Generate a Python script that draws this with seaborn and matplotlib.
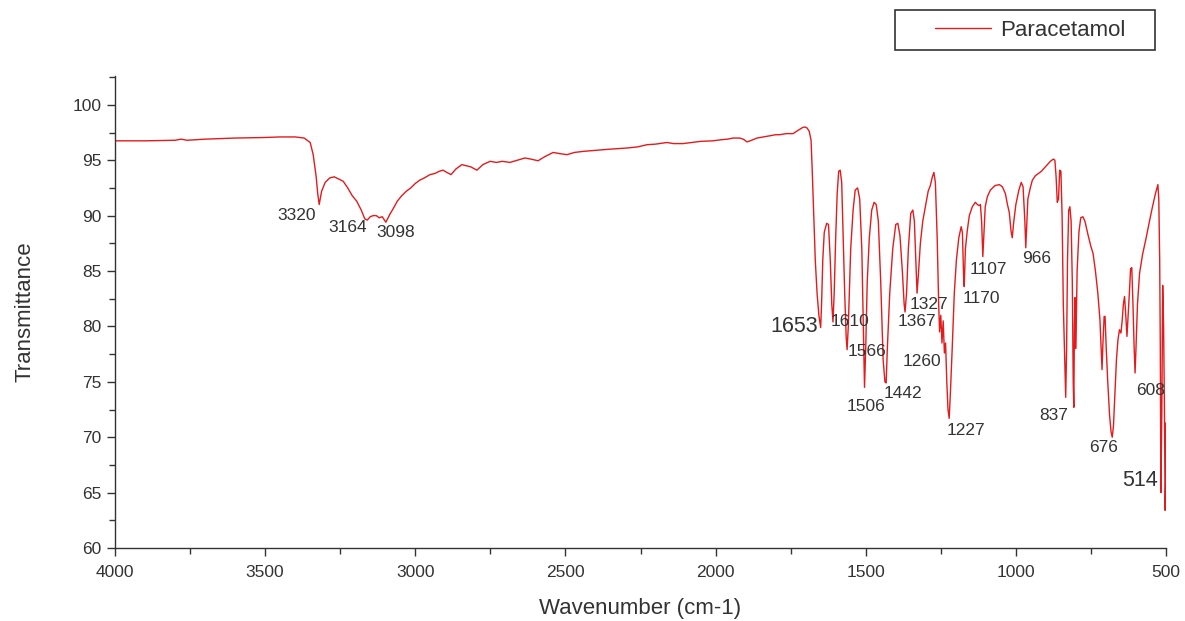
import numpy as np
import pandas as pd
import matplotlib
matplotlib.use("Agg")
import matplotlib.pyplot as plt
import seaborn as sns
from matplotlib.lines import Line2D
from matplotlib.patches import Rectangle
from matplotlib.ticker import MultipleLocator

# ---- data ----
# O-H / N-H region (4000-3000)
wn_high = [4000, 3900, 3800, 3780, 3760, 3700, 3600, 3500, 3450, 3400, 3370, 3350, 3340, 3330,
           3325, 3320, 3312, 3300, 3285, 3270, 3255, 3240, 3225, 3210, 3195, 3180, 3168, 3160,
           3150, 3140, 3130, 3120, 3110, 3098, 3085, 3070, 3060, 3045, 3030, 3015]
t_high = [96.75, 96.75, 96.8, 96.9, 96.8, 96.9, 97.0, 97.05, 97.1, 97.1, 97.0, 96.6, 95.5, 93.5,
          92.0, 91.0, 92.2, 93.0, 93.4, 93.5, 93.3, 93.1, 92.5, 91.8, 91.3, 90.5, 89.7, 89.6,
          89.9, 90.0, 90.0, 89.8, 89.9, 89.4, 90.1, 90.8, 91.3, 91.8, 92.2, 92.5]
# plateau (3000-1690)
wn_mid = [3000, 2985, 2970, 2951, 2935, 2920, 2908, 2895, 2881, 2865, 2845, 2830, 2815, 2795,
          2775, 2751, 2730, 2710, 2685, 2660, 2635, 2615, 2591, 2570, 2541, 2520, 2495, 2470,
          2440, 2395, 2350, 2295, 2260, 2228, 2200, 2162, 2140, 2108, 2080, 2050, 2009, 1980,
          1960, 1942, 1920, 1908, 1895, 1880, 1862, 1840, 1820, 1800, 1786, 1765, 1742, 1725,
          1710, 1702, 1695, 1688]
t_mid = [92.9, 93.2, 93.4, 93.7, 93.8, 94.0, 94.1, 93.9, 93.7, 94.2, 94.6, 94.5, 94.4, 94.1,
         94.6, 94.9, 94.8, 94.9, 94.8, 95.0, 95.2, 95.1, 94.95, 95.3, 95.7, 95.6, 95.5, 95.7,
         95.8, 95.9, 96.0, 96.1, 96.2, 96.4, 96.45, 96.6, 96.5, 96.5, 96.6, 96.7, 96.75, 96.85,
         96.9, 97.0, 97.0, 96.9, 96.65, 96.8, 97.0, 97.1, 97.2, 97.3, 97.3, 97.4, 97.4, 97.7,
         97.95, 98.0, 97.9, 97.6]
# fingerprint region (1690-500)
wn_low = [
    1682, 1678, 1673, 1668, 1662, 1656, 1650, 1647, 1643, 1638, 1630,
    1624, 1618, 1613, 1609, 1605, 1600, 1595, 1590, 1585, 1580, 1575, 1570, 1565, 1562, 1558, 1550,
    1542, 1535, 1527, 1520, 1513, 1508, 1504, 1500, 1495, 1488, 1480, 1472, 1465, 1458, 1450, 1442,
    1436, 1432, 1428, 1420, 1410, 1400, 1393, 1386, 1378, 1372, 1369, 1364, 1358, 1350, 1343, 1338,
    1333, 1329, 1325, 1318, 1310, 1300, 1292, 1285, 1278, 1273, 1268, 1262, 1257, 1254, 1250, 1246,
    1242, 1238, 1234, 1230, 1226, 1222, 1218, 1212, 1205, 1198, 1190, 1182, 1178, 1174, 1172, 1168,
    1162, 1155, 1145, 1135, 1128, 1122, 1118, 1114, 1110, 1106, 1102, 1095, 1085, 1070, 1055, 1045,
    1035, 1028, 1022, 1016, 1012, 1008, 1000, 990, 982, 976, 970, 967, 964, 960, 952, 945,
    935, 925, 915, 905, 895, 885, 875, 870, 866, 862, 858, 854, 850, 846, 842, 838,
    834, 831, 828, 824, 820, 816, 812, 809, 807, 805, 803, 801, 799, 796, 790, 784,
    777, 770, 760, 750, 743, 735, 727, 720, 716, 713, 710, 706, 703, 699, 694, 688,
    683, 679, 675, 670, 665, 660, 655, 650, 646, 642, 638, 634, 630, 626, 622, 618,
    614, 610, 606, 603, 600, 595, 588, 578, 566, 555, 545, 535, 527, 524, 521, 519,
    517, 514, 511, 508, 505, 503, 501, 500,
]
t_low = [
    96.8, 94.0, 90.0, 86.0, 83.0, 81.0, 79.9, 82.0, 86.0, 88.5, 89.3,
    89.2, 86.0, 82.0, 80.4, 83.0, 88.0, 92.0, 94.0, 94.1, 93.0, 88.0, 83.0, 79.0, 77.9, 80.0, 87.0,
    90.5, 92.3, 92.5, 91.5, 87.0, 80.0, 74.5, 78.0, 84.0, 88.0, 90.5, 91.2, 91.0, 89.5, 84.0, 77.0,
    75.0, 74.9, 78.0, 83.0, 87.0, 89.2, 89.3, 88.2, 85.0, 82.0, 81.3, 83.0, 87.0, 90.2, 90.5, 89.5,
    86.0, 83.0, 84.5, 87.5, 89.5, 91.0, 92.2, 92.7, 93.5, 93.9, 93.0, 88.0, 82.0, 79.5, 81.0, 78.5,
    80.5, 77.6, 78.5, 75.0, 72.5, 71.7, 74.0, 78.0, 83.0, 86.0, 88.0, 89.0, 88.5, 84.5, 83.6, 87.0,
    88.6, 90.0, 90.8, 91.2, 91.0, 90.9, 91.0, 89.5, 86.3, 88.5, 90.8, 91.7, 92.3, 92.7, 92.8, 92.6,
    92.0, 91.0, 90.3, 88.6, 88.0, 89.2, 91.0, 92.3, 93.0, 92.6, 89.5, 87.1, 89.0, 91.5, 92.5, 93.2,
    93.6, 93.8, 94.0, 94.3, 94.6, 94.9, 95.1, 95.0, 93.5, 91.2, 91.5, 94.1, 94.0, 90.0, 82.0, 77.9,
    73.6, 78.0, 86.0, 90.5, 90.8, 89.5, 84.0, 75.0, 72.7, 80.0, 82.6, 78.0, 80.0, 85.0, 88.5, 89.8,
    89.9, 89.5, 88.3, 87.2, 86.6, 85.0, 83.0, 80.6, 78.0, 76.1, 78.5, 80.9, 80.9, 78.0, 75.0, 72.0,
    70.5, 70.0, 71.0, 74.0, 77.0, 78.8, 79.7, 79.4, 80.5, 82.0, 82.7, 81.0, 79.1, 81.0, 83.0, 85.2,
    85.3, 82.0, 78.0, 75.8, 78.0, 82.0, 84.8, 86.5, 88.0, 89.5, 90.8, 92.0, 92.8, 91.5, 86.0, 78.2,
    65.0, 72.0, 83.7, 80.0, 72.0, 63.4, 66.0, 71.3,
]
wavenumber = wn_high + wn_mid + wn_low
transmittance = t_high + t_mid + t_low

peak_labels = ["3320", "3164", "3098", "1653", "1610", "1566", "1506", "1442", "1367", "1327",
               "1260", "1227", "1170", "1107", "966", "837", "676", "608", "514"]
label_x = [3394, 3224, 3064, 1739, 1552, 1496, 1499, 1376, 1329, 1289,
           1313, 1166, 1116, 1090, 930, 873, 707, 553, 587]
label_y = [89.98, 88.9, 88.5, 79.95, 80.4, 77.7, 72.8, 73.9, 80.4, 82.0,
           76.8, 70.6, 82.5, 85.1, 86.1, 72.0, 69.1, 74.2, 66.1]
big_labels = ["1653", "514"]

series_name = "Paracetamol"
x_ticks = [4000, 3500, 3000, 2500, 2000, 1500, 1000, 500]
y_ticks = [60, 65, 70, 75, 80, 85, 90, 95, 100]

df = pd.DataFrame({"Wavenumber": wavenumber, "Transmittance": transmittance})

# ---- styling ----
sns.set_style("ticks")
plt.rcParams["font.family"] = ["Liberation Sans", "DejaVu Sans"]
TXT = "#333333"
RED = "#e41a1c"

fig = plt.figure(figsize=(11.85, 6.21), dpi=100)
ax = fig.add_axes([115 / 1185, 1 - 548 / 621, (1166 - 115) / 1185, (548 - 76) / 621])

sns.lineplot(data=df, x="Wavenumber", y="Transmittance", ax=ax, color=RED,
             linewidth=1.0, sort=False, estimator=None)

ax.set_xlim(4000, 500)
ax.set_ylim(60, 102.6)
ax.set_xticks(x_ticks)
ax.set_yticks(y_ticks)
ax.xaxis.set_minor_locator(MultipleLocator(250))
ax.yaxis.set_minor_locator(MultipleLocator(2.5))
ax.tick_params(which="major", direction="out", length=6, width=1, colors=TXT, labelsize=12.5)
ax.tick_params(axis="x", which="major", pad=6)
ax.tick_params(which="minor", direction="out", length=4, width=1, colors=TXT)
sns.despine(ax=ax)
for s in ["left", "bottom"]:
    ax.spines[s].set_color(TXT)
    ax.spines[s].set_linewidth(1.0)

ax.set_xlabel("Wavenumber (cm-1)", fontsize=16, color=TXT, labelpad=13)
ax.set_ylabel("Transmittance", fontsize=16, color=TXT, labelpad=27)

for lab, lx, ly in zip(peak_labels, label_x, label_y):
    ax.text(lx, ly, lab, ha="center", va="center",
            fontsize=15.5 if lab in big_labels else 12.5, color=TXT)

# legend
handle = Line2D([], [], color=RED, linewidth=1.0)
fig.legend(handles=[handle], labels=[series_name], loc="center left",
           bbox_to_anchor=(935 / 1185, 1 - 30 / 621), frameon=False,
           handlelength=2.5, handletextpad=0.45, borderpad=0, borderaxespad=0,
           fontsize=16, labelcolor=TXT)
fig.add_artist(Rectangle((895 / 1185, 1 - 50 / 621), 260 / 1185, 40 / 621,
                         transform=fig.transFigure, fill=False, edgecolor=TXT, linewidth=1.2))

fig.savefig("out.png", dpi=100)
